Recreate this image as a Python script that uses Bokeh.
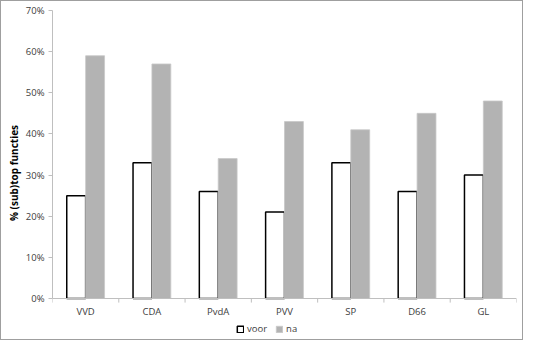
from bokeh.plotting import figure
from bokeh.layouts import column
from bokeh.models import FactorRange, Legend, LegendItem, PrintfTickFormatter, FixedTicker, ColumnDataSource
from bokeh.transform import dodge
from bokeh.embed import file_html
from bokeh.resources import INLINE

parties = ["VVD", "CDA", "PvdA", "PVV", "SP", "D66", "GL"]
voor = [25, 33, 26, 21, 33, 26, 30]
na = [59, 57, 34, 43, 41, 45, 48]
y_ticks = [0, 10, 20, 30, 40, 50, 60, 70]

src = ColumnDataSource(dict(party=parties, voor=voor, na=na))
last_src = ColumnDataSource(dict(party=parties[-1:]))

FONT = "Open Sans"
TXT = "#404040"
AXIS = "#bfbfbf"

p = figure(x_range=FactorRange(*parties, range_padding=0), y_range=(-9, 70),
           width=521, height=338, output_backend="svg", toolbar_location=None,
           min_border_left=51, min_border_right=6, min_border_top=9, min_border_bottom=4)
p.outline_line_color = None
p.grid.visible = False

# category boundary ticks on the x axis
p.segment(x0=dodge("party", -0.5, range=p.x_range), y0=0, x1=dodge("party", -0.5, range=p.x_range), y1=-1,
          source=src, line_color=AXIS, line_width=1)
p.segment(x0=dodge("party", 0.5, range=p.x_range), y0=0, x1=dodge("party", 0.5, range=p.x_range), y1=-1,
          source=last_src, line_color=AXIS, line_width=1)

r_voor = p.vbar(x=dodge("party", -0.1425, range=p.x_range), top="voor", width=0.285, source=src,
                fill_color="white", line_color="black", line_width=1.5)
r_na = p.vbar(x=dodge("party", 0.1425, range=p.x_range), top="na", width=0.285, source=src,
              fill_color="#b3b3b3", line_color="#c8c8c8", line_width=0.8)

p.yaxis.ticker = FixedTicker(ticks=y_ticks)
p.yaxis.bounds = (0, 70)
p.yaxis.formatter = PrintfTickFormatter(format="%d%%")
p.yaxis.axis_label = "% (sub)top functies"
p.yaxis.axis_label_text_font = FONT
p.yaxis.axis_label_text_font_style = "bold"
p.yaxis.axis_label_text_font_size = "10px"
p.yaxis.axis_label_text_color = "black"
p.yaxis.axis_label_standoff = 2
p.yaxis.major_tick_in = 0
p.yaxis.major_tick_out = 4
p.yaxis.minor_tick_line_color = None
p.yaxis.major_label_standoff = 4

for ax in (p.xaxis[0], p.yaxis[0]):
    ax.axis_line_color = AXIS
    ax.major_tick_line_color = AXIS
    ax.major_label_text_font = FONT
    ax.major_label_text_font_size = "9.5px"
    ax.major_label_text_color = TXT

p.xaxis.fixed_location = 0
p.xaxis.major_tick_line_color = None
p.xaxis.major_label_standoff = 1

legend = Legend(items=[LegendItem(label="voor", renderers=[r_voor]),
                       LegendItem(label="na", renderers=[r_na])],
                orientation="horizontal", location=(184, 0),
                glyph_width=8, glyph_height=8, label_text_font=FONT,
                label_text_font_size="9.5px", label_text_color=TXT,
                label_standoff=3, spacing=8, padding=2, margin=0,
                border_line_color=None, background_fill_alpha=0)
p.add_layout(legend)

layout = column(p, styles={"border": "1px solid #9f9f9f"})

open("out.html", "w").write(file_html(layout, INLINE))
